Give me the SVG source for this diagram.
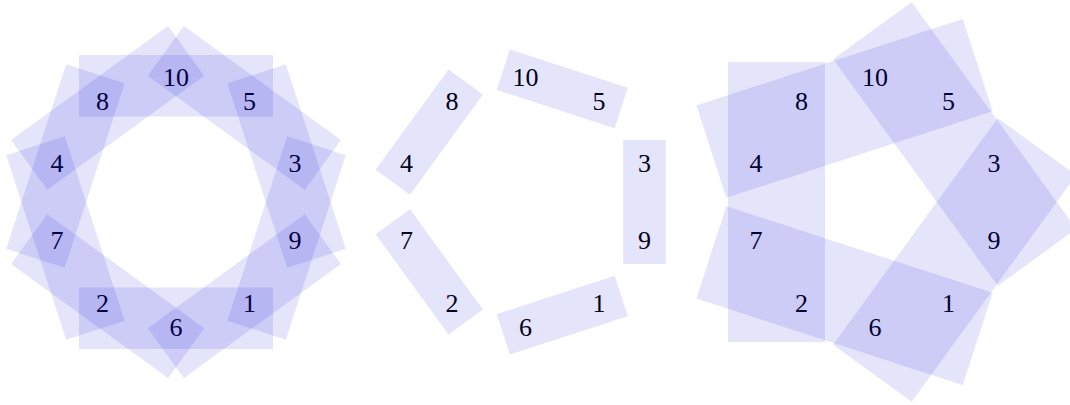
<svg xmlns="http://www.w3.org/2000/svg" width="1070" height="405" viewBox="0 0 1070 405">
<style>
.lbl{font-family:"Liberation Serif","DejaVu Serif",serif;font-size:26px;fill:#000;text-anchor:middle}
.fit{fill:#0d0dd9;fill-opacity:0.11;stroke:none}
</style>
<rect width="1070" height="405" fill="#fff"/>
<!-- Left panel: 10 rotated fits of three neighbouring labels -->
<g id="left-panel" transform="translate(176,202)">
  <g id="left-labels">
    <g id="L3"><text class="lbl" x="118.9" y="-29.8">3</text></g>
    <g id="L5"><text class="lbl" x="73.5" y="-92.3">5</text></g>
    <g id="L10"><text class="lbl" x="0" y="-116.4">10</text></g>
    <g id="L8"><text class="lbl" x="-73.5" y="-92.3">8</text></g>
    <g id="L4"><text class="lbl" x="-118.9" y="-29.8">4</text></g>
    <g id="L7"><text class="lbl" x="-118.9" y="47.4">7</text></g>
    <g id="L2"><text class="lbl" x="-73.5" y="109.9">2</text></g>
    <g id="L6"><text class="lbl" x="0" y="133.8">6</text></g>
    <g id="L1"><text class="lbl" x="73.5" y="109.9">1</text></g>
    <g id="L9"><text class="lbl" x="118.9" y="47.4">9</text></g>
  </g>
  <g id="left-fits">
    <rect id="LF-8-10-5" class="fit" x="-97" y="-147" width="194" height="61.5"/>
    <rect id="LF-10-5-3" class="fit" x="-97" y="-147" width="194" height="61.5" transform="rotate(36)"/>
    <rect id="LF-5-3-9" class="fit" x="-97" y="-147" width="194" height="61.5" transform="rotate(72)"/>
    <rect id="LF-3-9-1" class="fit" x="-97" y="-147" width="194" height="61.5" transform="rotate(108)"/>
    <rect id="LF-9-1-6" class="fit" x="-97" y="-147" width="194" height="61.5" transform="rotate(144)"/>
    <rect id="LF-1-6-2" class="fit" x="-97" y="-147" width="194" height="61.5" transform="rotate(180)"/>
    <rect id="LF-6-2-7" class="fit" x="-97" y="-147" width="194" height="61.5" transform="rotate(216)"/>
    <rect id="LF-2-7-4" class="fit" x="-97" y="-147" width="194" height="61.5" transform="rotate(252)"/>
    <rect id="LF-7-4-8" class="fit" x="-97" y="-147" width="194" height="61.5" transform="rotate(288)"/>
    <rect id="LF-4-8-10" class="fit" x="-97" y="-147" width="194" height="61.5" transform="rotate(324)"/>
  </g>
</g>
<!-- Middle panel: 5 fits of label pairs -->
<g id="middle-panel" transform="translate(525.5,202)">
  <g id="middle-labels">
    <g id="M3"><text class="lbl" x="118.9" y="-29.8">3</text></g>
    <g id="M5"><text class="lbl" x="73.5" y="-92.3">5</text></g>
    <g id="M10"><text class="lbl" x="0" y="-116.4">10</text></g>
    <g id="M8"><text class="lbl" x="-73.5" y="-92.3">8</text></g>
    <g id="M4"><text class="lbl" x="-118.9" y="-29.8">4</text></g>
    <g id="M7"><text class="lbl" x="-118.9" y="47.4">7</text></g>
    <g id="M2"><text class="lbl" x="-73.5" y="109.9">2</text></g>
    <g id="M6"><text class="lbl" x="0" y="133.8">6</text></g>
    <g id="M1"><text class="lbl" x="73.5" y="109.9">1</text></g>
    <g id="M9"><text class="lbl" x="118.9" y="47.4">9</text></g>
  </g>
  <g id="middle-fits">
    <rect id="MF-3-9" class="fit" x="97.7" y="-62" width="42.5" height="124"/>
    <rect id="MF-6-1" class="fit" x="97.7" y="-62" width="42.5" height="124" transform="rotate(72)"/>
    <rect id="MF-7-2" class="fit" x="97.7" y="-62" width="42.5" height="124" transform="rotate(144)"/>
    <rect id="MF-8-4" class="fit" x="97.7" y="-62" width="42.5" height="124" transform="rotate(216)"/>
    <rect id="MF-10-5" class="fit" x="97.7" y="-62" width="42.5" height="124" transform="rotate(288)"/>
  </g>
</g>
<!-- Right panel: 5 fits of four labels -->
<g id="right-panel" transform="translate(875,202)">
  <g id="right-labels">
    <g id="R3"><text class="lbl" x="118.9" y="-29.8">3</text></g>
    <g id="R5"><text class="lbl" x="73.5" y="-92.3">5</text></g>
    <g id="R10"><text class="lbl" x="0" y="-116.4">10</text></g>
    <g id="R8"><text class="lbl" x="-73.5" y="-92.3">8</text></g>
    <g id="R4"><text class="lbl" x="-118.9" y="-29.8">4</text></g>
    <g id="R7"><text class="lbl" x="-118.9" y="47.4">7</text></g>
    <g id="R2"><text class="lbl" x="-73.5" y="109.9">2</text></g>
    <g id="R6"><text class="lbl" x="0" y="133.8">6</text></g>
    <g id="R1"><text class="lbl" x="73.5" y="109.9">1</text></g>
    <g id="R9"><text class="lbl" x="118.9" y="47.4">9</text></g>
  </g>
  <g id="right-fits">
    <rect id="RF-8-4-7-2" class="fit" x="-147" y="-140" width="97" height="280"/>
    <rect id="RF-4-8-10-5" class="fit" x="-147" y="-140" width="97" height="280" transform="rotate(72)"/>
    <rect id="RF-10-5-3-9" class="fit" x="-147" y="-140" width="97" height="280" transform="rotate(144)"/>
    <rect id="RF-3-9-1-6" class="fit" x="-147" y="-140" width="97" height="280" transform="rotate(216)"/>
    <rect id="RF-1-6-2-7" class="fit" x="-147" y="-140" width="97" height="280" transform="rotate(288)"/>
  </g>
</g>
</svg>
